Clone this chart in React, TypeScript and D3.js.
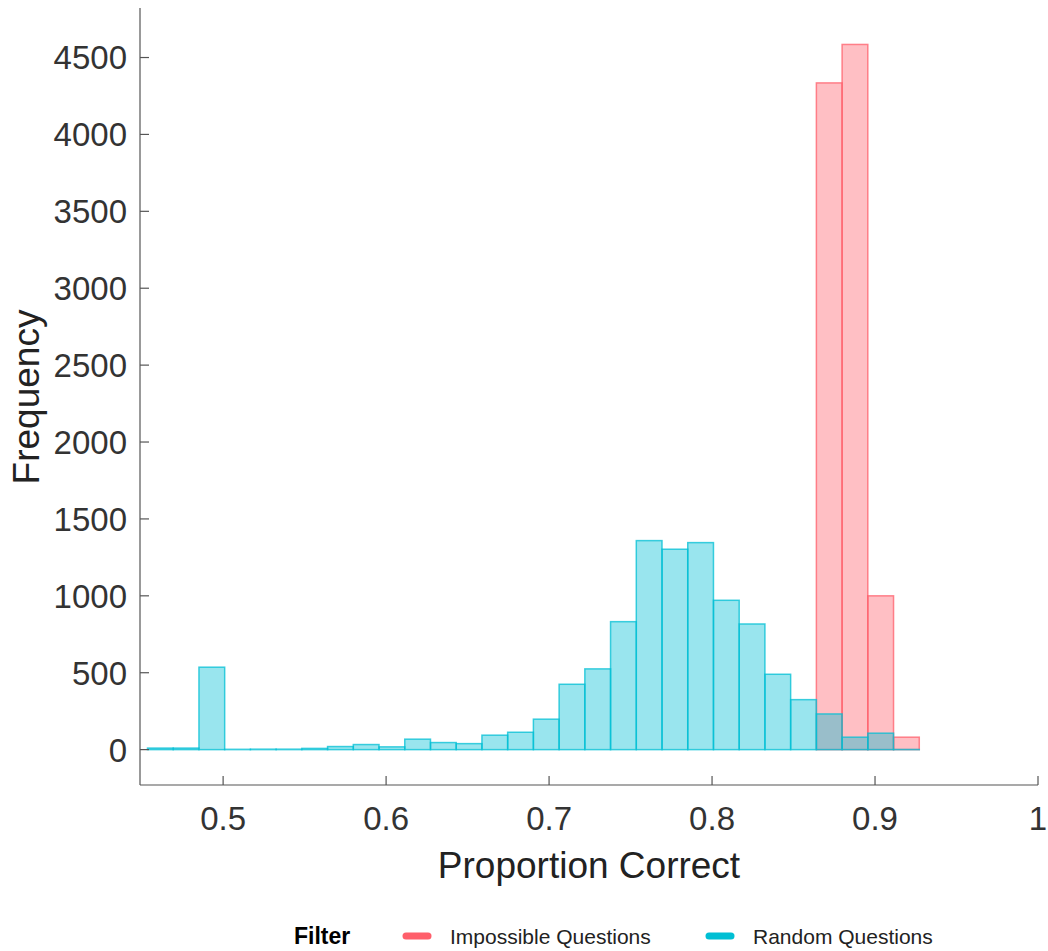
import React, { useEffect, useRef } from 'react';
import * as d3 from 'd3';

// histogram bins (left edge of first bin and common width, in proportion units)
const binStart = 0.4536;
const binWidth = 0.015785;

// counts per bin, Random Questions
const randomCounts = [
  10, 10, 536, 2, 3, 3, 8, 20, 33, 18, 68, 46, 39, 94, 113, 198, 425, 525, 832, 1359, 1303,
  1346, 971, 817, 490, 325, 232, 81, 107, 1,
];
// counts per bin, Impossible Questions
const impossibleCounts = [
  0, 0, 0, 0, 0, 0, 0, 0, 0, 0, 0, 0, 0, 0, 0, 0, 0, 0, 0, 0, 0, 0, 0, 0, 0, 0, 4335, 4585,
  1000, 81,
];

const xTicks = [0.5, 0.6, 0.7, 0.8, 0.9, 1];
const yTicks = [0, 500, 1000, 1500, 2000, 2500, 3000, 3500, 4000, 4500];
const seriesNames = ['Impossible Questions', 'Random Questions'];
const seriesColors = ['#ff5f6b', '#00bfd4'];

const App = () => {
  const ref = useRef<SVGSVGElement>(null);

  useEffect(() => {
    const svg = d3.select(ref.current);
    svg.selectAll('*').remove();

    const left = 140;
    const right = 1038;
    const top = 8;
    const bottom = 785;
    const font = "'Liberation Sans', Arial, sans-serif";

    const x = d3.scaleLinear().domain([0.449, 1.0]).range([left, right]);
    const y = d3.scaleLinear().domain([-230, 4822]).range([bottom, top]);

    const drawSeries = (counts: number[], color: string, skipZero: boolean) => {
      counts.forEach((c, i) => {
        if (skipZero && c <= 0) return;
        const x0 = binStart + i * binWidth;
        svg
          .append('rect')
          .attr('x', x(x0))
          .attr('y', y(c))
          .attr('width', x(x0 + binWidth) - x(x0))
          .attr('height', Math.max(0, y(0) - y(c)))
          .attr('fill', color)
          .attr('fill-opacity', 0.4)
          .attr('stroke', color)
          .attr('stroke-opacity', 0.75)
          .attr('stroke-width', 1.5);
      });
    };

    drawSeries(impossibleCounts, seriesColors[0], true);
    drawSeries(randomCounts, seriesColors[1], false);

    // axes
    const axisColor = '#555';
    svg.append('line').attr('x1', left).attr('x2', left).attr('y1', top).attr('y2', bottom)
      .attr('stroke', axisColor).attr('stroke-width', 1.2);
    svg.append('line').attr('x1', left).attr('x2', right).attr('y1', bottom).attr('y2', bottom)
      .attr('stroke', axisColor).attr('stroke-width', 1.2);

    yTicks.forEach((t) => {
      svg.append('line').attr('x1', left).attr('x2', left + 9).attr('y1', y(t)).attr('y2', y(t))
        .attr('stroke', axisColor).attr('stroke-width', 1.2);
      svg.append('text').attr('x', left - 13).attr('y', y(t)).attr('dy', '0.36em')
        .attr('text-anchor', 'end').attr('font-family', font).attr('font-size', 33)
        .attr('fill', '#333').text(t);
    });

    xTicks.forEach((t) => {
      svg.append('line').attr('x1', x(t)).attr('x2', x(t)).attr('y1', bottom).attr('y2', bottom - 9)
        .attr('stroke', axisColor).attr('stroke-width', 1.2);
      svg.append('text').attr('x', x(t)).attr('y', 830)
        .attr('text-anchor', 'middle').attr('font-family', font).attr('font-size', 33)
        .attr('fill', '#333').text(String(t));
    });

    svg.append('text').attr('x', (left + right) / 2).attr('y', 878)
      .attr('text-anchor', 'middle').attr('font-family', font).attr('font-size', 37)
      .attr('fill', '#222').text('Proportion Correct');

    svg.append('text').attr('transform', `translate(39,397) rotate(-90)`)
      .attr('text-anchor', 'middle').attr('font-family', font).attr('font-size', 37)
      .attr('fill', '#222').text('Frequency');

    // legend
    const ly = 936;
    svg.append('text').attr('x', 294).attr('y', ly + 8).attr('font-family', font)
      .attr('font-size', 23).attr('font-weight', 'bold').attr('fill', '#000').text('Filter');
    const legendX = [403, 706];
    seriesNames.forEach((name, i) => {
      svg.append('line').attr('x1', legendX[i] + 3).attr('x2', legendX[i] + 25)
        .attr('y1', ly).attr('y2', ly).attr('stroke', seriesColors[i])
        .attr('stroke-width', 7).attr('stroke-linecap', 'round');
      svg.append('text').attr('x', legendX[i] + 47).attr('y', ly + 8).attr('font-family', font)
        .attr('font-size', 21).attr('fill', '#222').text(name);
    });
  }, []);

  return (
    <div style={{ position: 'absolute', left: 0, top: 0 }}>
      <svg ref={ref} width={1048} height={951} style={{ display: 'block', background: '#fff' }} />
    </div>
  );
};

export default App;
